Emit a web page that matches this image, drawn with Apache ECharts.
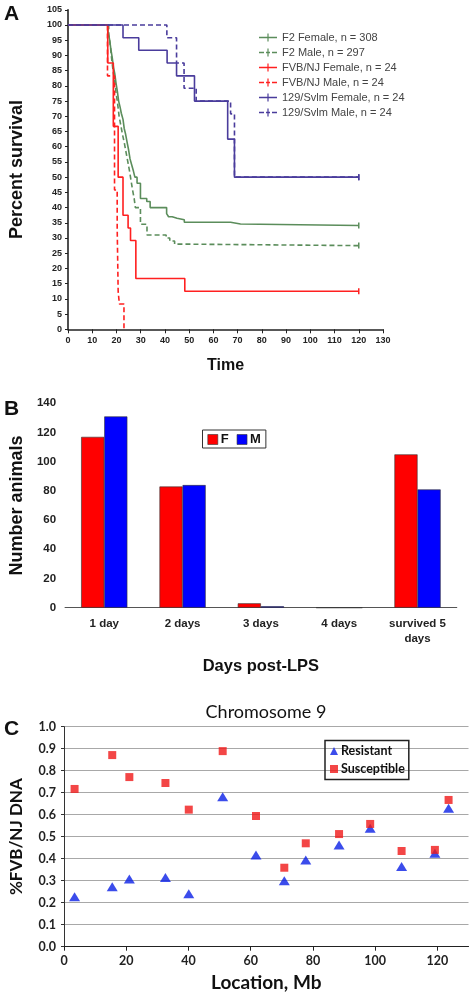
<!DOCTYPE html>
<html><head><meta charset="utf-8">
<script src="https://cdn.jsdelivr.net/npm/echarts@6/dist/echarts.min.js"></script>
<style>html,body{margin:0;padding:0;background:#fff}#c{width:476px;height:1001px}</style>
</head><body><div id="c"></div>
<script>
// ---------- Panel A : Kaplan-Meier survival (time, percent survival) ----------
const f2Female = [[0,100],[16.5,98],[17.2,95],[17.7,92],[18.3,89],[18.8,86],[19.3,84],[19.8,81],[20.4,78],[20.9,75],[21.5,73],[22,71],[22.7,69],[23.2,66],[23.8,64],[24.5,61],[25,59],[25.6,56],[26.3,54],[27,52],[27.6,50],[28.5,48],[29.9,43],[32.5,42],[33.9,40],[40.7,38],[41.5,37],[43,36.5],[45,36],[48,35.2],[67.1,34.6],[71.2,34.1],[120,34.1]];
const f2Male = [[0,100],[16.8,97],[17.5,93],[18,89],[18.6,85],[19.2,82],[19.8,78],[20.5,74],[21.1,70],[21.8,67],[22.5,64],[23.3,61],[24,58],[24.7,55],[25.4,52],[26,49],[26.6,46],[27.3,43],[27.8,40],[29.9,34.5],[32.6,31],[40.5,30],[42,29],[44,28],[47.5,27.5],[120,27.5]];
const fvbFemale = [[0,100],[16.4,87.5],[18.7,66.7],[20.7,50],[22.7,37.5],[24.8,33.3],[25.8,29.2],[28,16.7],[48.2,12.5],[120,12.5]];
const fvbMale = [[0,100],[16.3,83.3],[19.2,45.8],[20.3,33.3],[20.7,12.5],[21.2,8.3],[23.1,0]];
const svFemale = [[0,100],[22.7,95.8],[29.2,91.7],[40.9,87.5],[44.8,83.3],[52.2,75],[65.9,62.5],[68.7,50],[120,50]];
const svMale = [[0,100],[40.8,95.8],[44.8,87.5],[47.9,79.2],[52.9,75],[67.1,70.8],[68.7,50],[120,50]];
const survNames = ['F2 Female, n = 308','F2 Male, n = 297','FVB/NJ Female, n = 24','FVB/NJ Male, n = 24','129/Svlm Female, n = 24','129/Svlm Male, n = 24'];
const survDashed = [false, true, false, true, false, true];

// ---------- Panel B : deaths by day ----------
const dayCats = ['1 day','2 days','3 days','4 days','survived 5\ndays'];
const femaleCounts = [117,83,3,0,105];
const maleCounts = [131,84,1,0,81];

// ---------- Panel C : Chromosome 9 ----------
const locMb = [3.4,15.5,21.0,32.6,40.1,51.0,61.7,70.8,77.7,88.4,98.4,108.5,119.2,123.6];
const resistant = [0.227,0.273,0.308,0.315,0.241,0.682,0.417,0.300,0.394,0.462,0.538,0.364,0.425,0.629];
const susceptible = [0.717,0.871,0.771,0.744,0.623,0.889,0.594,0.359,0.470,0.512,0.558,0.435,0.440,0.667];

const GREEN = '#5b8d5b', RED = '#ff2020', PURPLE = '#4a3c9c';
const AR = 'Liberation Sans', CAL = 'Lato';
const ICON_SOLID = 'path://M0,3.3h18v1.4h-18z M8.4,0h1.2v8h-1.2z';
const ICON_DASH = 'path://M0,3.3h5v1.4h-5z M7,3.3h4v1.4h-4z M13,3.3h5v1.4h-5z M8.4,0h1.2v8h-1.2z';

function survSeries(name, data, color, dashed) {
  const last = data.length - 1;
  return {
    type: 'line', name: name, xAxisIndex: 0, yAxisIndex: 0, step: 'end',
    data: data, color: color,
    symbol: 'rect', showAllSymbol: true,
    symbolSize: (v, p) => (p.dataIndex === last && v[1] > 0) ? [1.5, 6] : 0,
    lineStyle: { color: color, width: 1.6, type: dashed ? [5, 3] : 'solid' },
    itemStyle: { color: color }, animation: false, z: 3
  };
}

const chart = echarts.init(document.getElementById('c'), null, { renderer: 'canvas' });
const boldLbl = (size, fam) => ({ fontFamily: fam, fontWeight: 'bold', fontSize: size, color: '#222' });

chart.setOption({
  animation: false,
  backgroundColor: '#fff',
  grid: [
    { left: 63, top: 9.8, width: 320, height: 319.5 },
    { left: 60, top: 403.3, width: 396.7, height: 204.4 },
    { left: 63.5, top: 726.7, width: 405, height: 220 }
  ],
  xAxis: [
    { gridIndex: 0, type: 'value', min: 0, max: 130, interval: 10,
      name: 'Time', nameLocation: 'middle', nameGap: 28,
      nameTextStyle: { fontFamily: AR, fontWeight: 'bold', fontSize: 16, color: '#111' },
      axisLine: { lineStyle: { color: '#222', width: 1.6 } },
      axisTick: { lineStyle: { color: '#222' }, length: 4 },
      axisLabel: Object.assign(boldLbl(9, AR), { margin: 7 }), splitLine: { show: false } },
    { gridIndex: 1, type: 'category', data: dayCats,
      name: 'Days post-LPS', nameLocation: 'middle', nameGap: 50,
      nameTextStyle: { fontFamily: AR, fontWeight: 'bold', fontSize: 16.5, color: '#111' },
      axisLine: { lineStyle: { color: '#555', width: 1.2 } },
      axisTick: { lineStyle: { color: '#555' }, length: 5 },
      axisLabel: Object.assign(boldLbl(11.5, AR), { margin: 9, lineHeight: 15 }) },
    { gridIndex: 2, type: 'value', min: 0, max: 130, interval: 20,
      name: 'Location, Mb', nameLocation: 'middle', nameGap: 27,
      nameTextStyle: { fontFamily: CAL, fontWeight: 'bold', fontSize: 19, color: '#111' },
      axisLine: { lineStyle: { color: '#222', width: 1.2 } },
      axisTick: { lineStyle: { color: '#222' }, length: 4 },
      axisLabel: Object.assign(boldLbl(12.5, CAL), { margin: 8, showMaxLabel: false }),
      splitLine: { show: false } }
  ],
  yAxis: [
    { gridIndex: 0, type: 'value', min: 0, max: 105, interval: 5,
      name: 'Percent survival', nameLocation: 'middle', nameGap: 42, nameRotate: 90,
      nameTextStyle: { fontFamily: AR, fontWeight: 'bold', fontSize: 18, color: '#111' },
      axisLine: { show: true, lineStyle: { color: '#222', width: 1.6 } },
      axisTick: { show: true, lineStyle: { color: '#222' }, length: 3 },
      axisLabel: Object.assign(boldLbl(9, AR), { margin: 6 }), splitLine: { show: false } },
    { gridIndex: 1, type: 'value', min: 0, max: 140, interval: 20,
      name: 'Number animals', nameLocation: 'middle', nameGap: 38, nameRotate: 90,
      nameTextStyle: { fontFamily: AR, fontWeight: 'bold', fontSize: 18, color: '#111' },
      axisLine: { show: false }, axisTick: { show: false },
      axisLabel: Object.assign(boldLbl(11.5, AR), { margin: 9 }), splitLine: { show: false } },
    { gridIndex: 2, type: 'value', min: 0, max: 1, interval: 0.1,
      name: '%FVB/NJ DNA', nameLocation: 'middle', nameGap: 39, nameRotate: 90,
      nameTextStyle: { fontFamily: CAL, fontWeight: 'bold', fontSize: 17, color: '#111' },
      axisLine: { show: true, lineStyle: { color: '#333', width: 1 } },
      axisTick: { show: true, lineStyle: { color: '#333' }, length: 3 },
      axisLabel: Object.assign(boldLbl(12.5, CAL), { margin: 8, formatter: v => v.toFixed(1) }),
      splitLine: { show: true, lineStyle: { color: '#a8a8a8', width: 1.2 } } }
  ],
  legend: [
    { data: survNames.map((n, i) => ({ name: n, icon: survDashed[i] ? ICON_DASH : ICON_SOLID })),
      orient: 'vertical', left: 254, top: 26, itemGap: 2,
      itemWidth: 18, itemHeight: 8,
      textStyle: { fontFamily: AR, fontSize: 11, color: '#444', lineHeight: 13 } },
    { data: [{ name: 'F', icon: 'rect' }, { name: 'M', icon: 'rect' }], orient: 'horizontal', left: 202.5, top: 430, itemGap: 8,
      itemWidth: 10, itemHeight: 10, padding: [3, 5, 2, 5], borderColor: '#333', borderWidth: 1,
      itemStyle: { borderColor: '#333', borderWidth: 0.6 },
      textStyle: { fontFamily: AR, fontWeight: 'bold', fontSize: 13, color: '#111', padding: [0,0,0,-2] } },
    { data: [{ name: 'Resistant', icon: 'triangle' }, { name: 'Susceptible', icon: 'rect' }], orient: 'vertical', left: 325, top: 740.5, itemGap: 5,
      itemWidth: 8, itemHeight: 8, padding: [4, 4, 4, 5], borderColor: '#222', borderWidth: 1.5,
      textStyle: { fontFamily: CAL, fontWeight: 'bold', fontSize: 12.5, color: '#111', padding: [0,0,0,-2] } }
  ],
  graphic: [
    { type: 'text', left: 4, top: 4, style: { text: 'A', font: 'bold 21px "Liberation Sans"', fill: '#111' } },
    { type: 'text', left: 4, top: 399, style: { text: 'B', font: 'bold 21px "Liberation Sans"', fill: '#111' } },
    { type: 'text', left: 4, top: 719, style: { text: 'C', font: 'bold 21px "Liberation Sans"', fill: '#111' } },
    { type: 'text', x: 266, y: 712, style: { text: 'Chromosome 9', font: '18px Lato', fill: '#111', align: 'center', verticalAlign: 'middle' } }
  ],
  series: [
    survSeries(survNames[0], f2Female, GREEN, survDashed[0]),
    survSeries(survNames[1], f2Male, GREEN, survDashed[1]),
    survSeries(survNames[2], fvbFemale, RED, survDashed[2]),
    survSeries(survNames[3], fvbMale, RED, survDashed[3]),
    survSeries(survNames[4], svFemale, PURPLE, survDashed[4]),
    survSeries(survNames[5], svMale, PURPLE, survDashed[5]),
    { type: 'bar', name: 'F', xAxisIndex: 1, yAxisIndex: 1, data: femaleCounts,
      barGap: '0%', barCategoryGap: '41%',
      itemStyle: { color: '#ff0000', borderColor: '#333', borderWidth: 0.6 } },
    { type: 'bar', name: 'M', xAxisIndex: 1, yAxisIndex: 1, data: maleCounts,
      barGap: '0%', barCategoryGap: '41%',
      itemStyle: { color: '#0000ff', borderColor: '#333', borderWidth: 0.6 } },
    { type: 'scatter', name: 'Resistant', xAxisIndex: 2, yAxisIndex: 2,
      data: locMb.map((x, i) => [x, resistant[i]]),
      symbol: 'triangle', symbolSize: [11, 9], itemStyle: { color: '#0a1fe6' } },
    { type: 'scatter', name: 'Susceptible', xAxisIndex: 2, yAxisIndex: 2,
      data: locMb.map((x, i) => [x, susceptible[i]]),
      symbol: 'rect', symbolSize: 8, itemStyle: { color: '#f01818' } }
  ]
});
</script></body></html>
